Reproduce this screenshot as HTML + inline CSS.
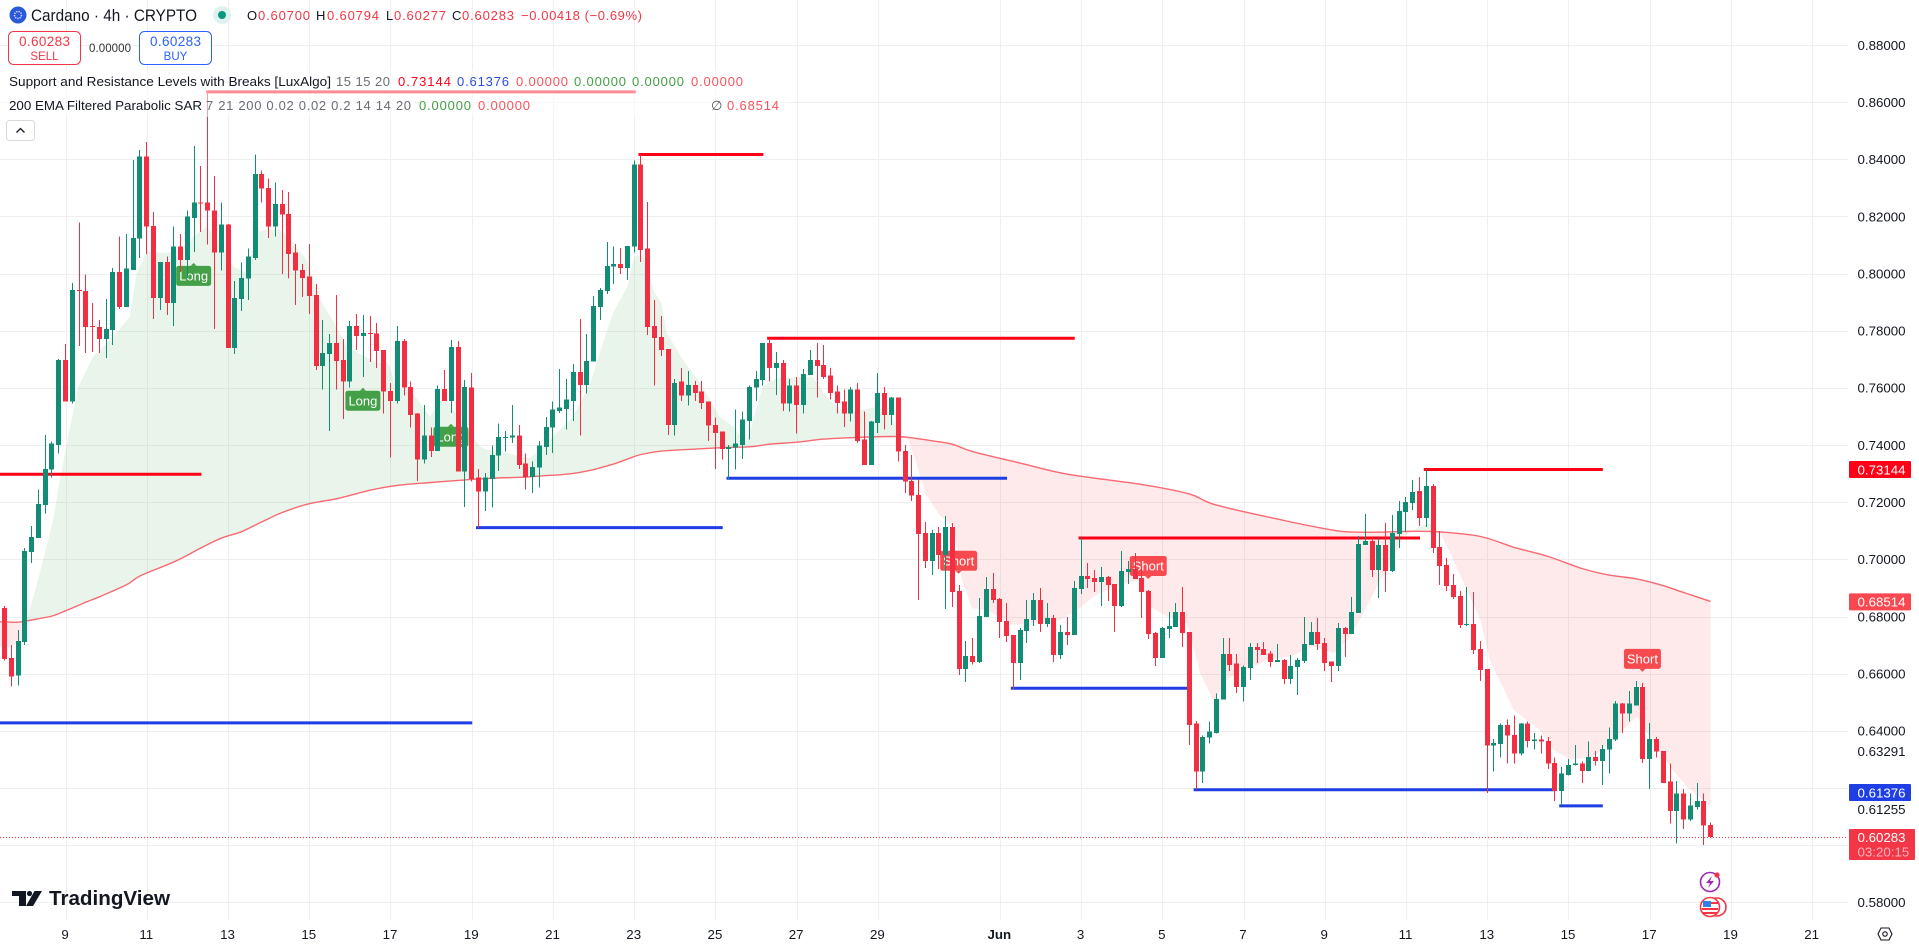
<!DOCTYPE html>
<html lang="en">
<head>
<meta charset="utf-8">
<title>Cardano 4h chart</title>
<style>
html,body{margin:0;padding:0;background:#fff;width:1919px;height:944px;overflow:hidden}
svg{display:block}
text{font-family:"Liberation Sans",sans-serif;fill:#131722}
</style>
</head>
<body>
<svg id="chart" xmlns="http://www.w3.org/2000/svg" width="1919" height="944" viewBox="0 0 1919 944">
  <rect width="1919" height="944" fill="#ffffff"/>
  <g id="grid"></g>
  <g id="fills"></g>
  <g id="ema"></g>
  <g id="levels"></g>
  <g id="signals"></g>
  <g id="candles"></g>
  <g id="lastline"></g>

  <g>
    <path d="M12 891H26V906H19V896H12Z" fill="#131722"/>
    <circle cx="29.5" cy="893.5" r="2.6" fill="#131722"/>
    <path d="M34.5 891H42L33 906H26Z" fill="#131722"/>
    <text x="49" y="905" font-size="20.5" font-weight="700" textLength="121" lengthAdjust="spacingAndGlyphs">TradingView</text>
  </g>

  <g>
    <circle cx="1710" cy="882" r="9.5" fill="#fff" stroke="#9c27b0" stroke-width="1.6"/>
    <path d="M1712 876L1706 883H1710L1708 888L1714 881H1710Z" fill="#9c27b0"/>
    <circle cx="1717" cy="875" r="2.6" fill="#f23645"/>
    <circle cx="1717" cy="907" r="9" fill="#fff" stroke="#f23645" stroke-width="1.6"/>
    <circle cx="1710" cy="907" r="9.5" fill="#fff" stroke="#f23645" stroke-width="1.6"/>
    <rect x="1703" y="901" width="8" height="6" fill="#2f80ed"/>
    <rect x="1711" y="902" width="7" height="2" fill="#f23645"/>
    <rect x="1702" y="908" width="16" height="2" fill="#f23645"/>
    <rect x="1703" y="912" width="14" height="2" fill="#f23645"/>
  </g>

  <rect x="0" y="70" width="790" height="47" fill="#ffffff" fill-opacity="0.55"/>

  <g>
    <circle cx="18" cy="15" r="8.5" fill="#2a5ada"/>
    <circle cx="18" cy="15" r="3.5" fill="none" stroke="#c9d6ff" stroke-width="1.5" stroke-dasharray="1.4 1"/>
    <text x="31" y="21" font-size="16.5" textLength="166" lengthAdjust="spacingAndGlyphs">Cardano · 4h · CRYPTO</text>
    <circle cx="222" cy="15" r="9" fill="#e0f2ef"/>
    <circle cx="222" cy="15" r="4" fill="#089981"/>
    <text x="247" y="20" font-size="13">O</text>
    <text x="258" y="20" font-size="13" style="fill:#f23645" textLength="52">0.60700</text>
    <text x="316" y="20" font-size="13">H</text>
    <text x="327" y="20" font-size="13" style="fill:#f23645" textLength="52">0.60794</text>
    <text x="386" y="20" font-size="13">L</text>
    <text x="394" y="20" font-size="13" style="fill:#f23645" textLength="52">0.60277</text>
    <text x="452" y="20" font-size="13">C</text>
    <text x="462" y="20" font-size="13" style="fill:#f23645" textLength="52">0.60283</text>
    <text x="521" y="20" font-size="13" style="fill:#f23645" textLength="121">−0.00418 (−0.69%)</text>

    <g>
      <rect x="8.5" y="31.5" width="72" height="33" rx="5" fill="#fff" stroke="#f23645"/>
      <text x="44.5" y="46" font-size="13.5" text-anchor="middle" style="fill:#f23645" textLength="51">0.60283</text>
      <text x="44.5" y="60" font-size="11.5" text-anchor="middle" style="fill:#f23645">SELL</text>
    </g>
    <text x="89" y="52" font-size="11.5" style="fill:#333" textLength="42">0.00000</text>
    <g>
      <rect x="139.5" y="31.5" width="72" height="33" rx="5" fill="#fff" stroke="#2962ff"/>
      <text x="175.5" y="46" font-size="13.5" text-anchor="middle" style="fill:#2962ff" textLength="51">0.60283</text>
      <text x="175.5" y="60" font-size="11.5" text-anchor="middle" style="fill:#2962ff">BUY</text>
    </g>

    <text x="9" y="86" font-size="13" textLength="322" lengthAdjust="spacingAndGlyphs">Support and Resistance Levels with Breaks [LuxAlgo]</text>
    <text x="336" y="86" font-size="13" style="fill:#6a6d78" textLength="54">15 15 20</text>
    <text x="398" y="86" font-size="13" style="fill:#f9001a" textLength="53">0.73144</text>
    <text x="457" y="86" font-size="13" style="fill:#2a4be8" textLength="52">0.61376</text>
    <text x="516" y="86" font-size="13" style="fill:#f7525f" textLength="52">0.00000</text>
    <text x="574" y="86" font-size="13" style="fill:#43a047" textLength="52">0.00000</text>
    <text x="632" y="86" font-size="13" style="fill:#43a047" textLength="52">0.00000</text>
    <text x="691" y="86" font-size="13" style="fill:#f7525f" textLength="52">0.00000</text>

    <text x="9" y="110" font-size="13" textLength="193" lengthAdjust="spacingAndGlyphs">200 EMA Filtered Parabolic SAR</text>
    <text x="206" y="110" font-size="13" style="fill:#6a6d78" textLength="205">7 21 200 0.02 0.02 0.2 14 14 20</text>
    <text x="419" y="110" font-size="13" style="fill:#43a047" textLength="52">0.00000</text>
    <text x="478" y="110" font-size="13" style="fill:#f7525f" textLength="52">0.00000</text>
    <text x="711" y="110" font-size="13" style="fill:#555">∅</text>
    <text x="727" y="110" font-size="13" style="fill:#f7525f" textLength="52">0.68514</text>

    <g>
      <rect x="6.5" y="120.5" width="28" height="20" rx="3" fill="#fff" stroke="#d8dae0"/>
      <path d="M16.5 132.5L20.5 128.5L24.5 132.5" fill="none" stroke="#131722" stroke-width="1.3"/>
    </g>
  </g>

  <g id="timeaxis"></g>
  <g id="priceaxis"></g>

  <g>
    <path d="M1878.5 934L1881.5 928H1889.5L1892.5 934L1889.5 940H1881.5Z" transform="translate(-.5 0)" fill="none" stroke="#131722" stroke-width="1.1"/>
    <circle cx="1885" cy="934" r="2.2" fill="none" stroke="#131722" stroke-width="1.1"/>
  </g>
</svg>
<script>
// ---- price series (one value per 4h bar) ----
const opens = [.6830,.6655,.6594,.6711,.7026,.7075,.7191,.7314,.7401,.7698,.7552,.7943,.7940,.7817,.7814,.7772,.7803,.8006,.7884,.8013,
.8122,.8409,.8167,.7915,.8041,.7898,.8094,.8048,.8195,.8248,.8248,.8220,.8073,.8171,.7740,.7912,.7982,.8055,.8349,.8300,
.8164,.8244,.8209,.8073,.8013,.7989,.7926,.7677,.7719,.7758,.7698,.7622,.7817,.7782,.7793,.7790,.7733,.7590,.7555,.7765,
.7604,.7510,.7349,.7433,.7380,.7597,.7555,.7744,.7307,.7601,.7286,.7237,.7282,.7363,.7426,.7426,.7433,.7335,.7289,.7321,
.7394,.7461,.7520,.7527,.7555,.7656,.7611,.7692,.7884,.7940,.8024,.8034,.8020,.8094,.8381,.8087,.7817,.7779,.7737,.7471,
.7622,.7573,.7611,.7587,.7552,.7471,.7447,.7387,.7391,.7401,.7485,.7601,.7628,.7758,.7670,.7688,.7545,.7608,.7541,.7646,
.7698,.7681,.7643,.7587,.7552,.7510,.7594,.7419,.7331,.7478,.7583,.7506,.7566,.7380,.7275,.7226,.7093,.6995,.7093,.7016,
.7114,.6890,.6617,.6662,.6641,.6799,.6897,.6862,.6785,.6736,.6638,.6750,.6788,.6858,.6774,.6795,.6666,.6746,.6736,.6897,
.6942,.6935,.6921,.6939,.6914,.6837,.6956,.6967,.6935,.6890,.6743,.6655,.6757,.6764,.6816,.6746,.6425,.6257,.6376,.6393,
.6509,.6669,.6635,.6554,.6620,.6694,.6687,.6670,.6641,.6648,.6582,.6624,.6645,.6701,.6746,.6708,.6642,.6627,.6760,.6739,
.6813,.7051,.7065,.6963,.7051,.6960,.7089,.7166,.7198,.7240,.7145,.7257,.7044,.6981,.6911,.6872,.6771,.6774,.6687,.6617,
.6348,.6354,.6421,.6386,.6320,.6425,.6365,.6369,.6365,.6288,.6190,.6246,.6281,.6285,.6260,.6309,.6295,.6334,.6369,.6495,
.6460,.6488,.6554,.6302,.6372,.6330,.6222,.6120,.6180,.6089,.6134,.6155,.60700];
const highs = [.6837,.6701,.6753,.7039,.7117,.7244,.7436,.7412,.7702,.7754,.7968,.8178,.7996,.7898,.7838,.7912,.8020,.8129,.8139,.8398,
.8433,.8461,.8216,.8041,.8059,.8164,.8139,.8220,.8447,.8377,.8636,.8342,.8248,.8174,.7975,.8038,.8087,.8416,.8360,.8332,
.8318,.8293,.8286,.8104,.8034,.8104,.7964,.7838,.7789,.7926,.7772,.7835,.7859,.7856,.7852,.7828,.7733,.7618,.7817,.7772,
.7622,.7513,.7541,.7461,.7608,.7663,.7768,.7765,.7628,.7653,.7317,.7303,.7398,.7475,.7450,.7541,.7471,.7370,.7342,.7415,
.7499,.7552,.7667,.7632,.7684,.7842,.7789,.7922,.7950,.8111,.8094,.8090,.8097,.8395,.8416,.8251,.7908,.7852,.7737,.7632,
.7670,.7660,.7625,.7625,.7552,.7496,.7447,.7401,.7524,.7517,.7608,.7660,.7758,.7772,.7726,.7698,.7632,.7639,.7667,.7733,
.7758,.7751,.7670,.7608,.7594,.7604,.7618,.7517,.7485,.7653,.7604,.7569,.7566,.7401,.7366,.7279,.7131,.7103,.7114,.7152,
.7128,.6911,.6715,.6725,.6865,.6939,.6953,.6865,.6848,.6736,.6760,.6858,.6883,.6900,.6848,.6806,.6771,.6799,.6925,.7075,
.6988,.6963,.6974,.6942,.6914,.7030,.6995,.7023,.6974,.6893,.6746,.6764,.6816,.6848,.6904,.6746,.6435,.6383,.6432,.6530,
.6725,.6725,.6669,.6628,.6708,.6708,.6711,.6680,.6704,.6652,.6666,.6655,.6799,.6781,.6795,.6725,.6642,.6778,.6764,.6869,
.7082,.7159,.7079,.7075,.7128,.7156,.7205,.7219,.7278,.7289,.7317,.7264,.7100,.7005,.6949,.6890,.6904,.6886,.6715,.6617,
.6372,.6425,.6439,.6453,.6428,.6432,.6393,.6383,.6379,.6306,.6274,.6302,.6351,.6292,.6362,.6330,.6351,.6411,.6505,.6498,
.6540,.6575,.6568,.6428,.6379,.6330,.6285,.6225,.6197,.6180,.6218,.6180,.60794];
const lows = [.6646,.6555,.6559,.6701,.6988,.7075,.7160,.7286,.7370,.7552,.7545,.7747,.7723,.7726,.7723,.7705,.7751,.7877,.7884,.8013,
.8055,.8069,.7842,.7873,.7856,.7817,.8006,.7985,.8076,.8146,.8101,.7807,.8010,.7740,.7719,.7870,.7908,.8048,.8248,.8125,
.8129,.7999,.7982,.7891,.7919,.7859,.7663,.7594,.7450,.7594,.7492,.7601,.7733,.7639,.7691,.7670,.7510,.7356,.7545,.7573,
.7461,.7275,.7335,.7359,.7380,.7555,.7513,.7307,.7184,.7272,.7109,.7170,.7181,.7310,.7377,.7408,.7317,.7244,.7233,.7251,
.7366,.7373,.7513,.7454,.7485,.7433,.7580,.7692,.7838,.7929,.7964,.7999,.7978,.8073,.8041,.7786,.7608,.7712,.7436,.7433,
.7555,.7538,.7555,.7527,.7415,.7317,.7349,.7282,.7314,.7352,.7419,.7555,.7608,.7622,.7576,.7520,.7517,.7440,.7510,.7646,
.7566,.7632,.7559,.7510,.7464,.7482,.7408,.7331,.7331,.7443,.7454,.7471,.7342,.7233,.7205,.6858,.6970,.6946,.6967,.6827,
.6834,.6596,.6571,.6633,.6638,.6799,.6848,.6725,.6711,.6547,.6578,.6708,.6767,.6746,.6764,.6641,.6652,.6701,.6736,.6879,
.6900,.6886,.6837,.6855,.6746,.6834,.6914,.6932,.6795,.6722,.6627,.6655,.6725,.6764,.6694,.6351,.6194,.6218,.6355,.6390,
.6509,.6610,.6533,.6502,.6578,.6638,.6666,.6624,.6641,.6564,.6564,.6526,.6638,.6701,.6683,.6610,.6571,.6610,.6659,.6739,
.6813,.7051,.6939,.6865,.6886,.6956,.7040,.7096,.7173,.7117,.7114,.7023,.6911,.6890,.6862,.6760,.6767,.6669,.6575,.6183,
.6257,.6306,.6285,.6285,.6313,.6341,.6334,.6320,.6267,.6155,.6141,.6243,.6278,.6218,.6260,.6278,.6211,.6250,.6365,.6393,
.6432,.6488,.6288,.6197,.6306,.6218,.6075,.6005,.6057,.6085,.6124,.6001,.60277];
const closes = [.6652,.6590,.6715,.7030,.7079,.7194,.7317,.7405,.7698,.7552,.7943,.7940,.7814,.7814,.7772,.7807,.8006,.7884,.8017,.8125,
.8409,.8164,.7915,.8041,.7898,.8094,.8048,.8199,.8248,.8245,.8220,.8073,.8171,.7740,.7915,.7985,.8059,.8349,.8297,.8164,
.8244,.8206,.8069,.8010,.7985,.7922,.7677,.7723,.7758,.7695,.7622,.7817,.7782,.7793,.7790,.7730,.7587,.7555,.7765,.7601,
.7506,.7349,.7433,.7380,.7597,.7555,.7744,.7307,.7604,.7282,.7237,.7286,.7366,.7429,.7429,.7433,.7331,.7289,.7324,.7398,
.7464,.7524,.7531,.7559,.7656,.7611,.7695,.7887,.7943,.8027,.8034,.8020,.8097,.8381,.8083,.7814,.7775,.7733,.7471,.7618,
.7573,.7611,.7583,.7548,.7468,.7443,.7387,.7394,.7405,.7489,.7604,.7632,.7758,.7670,.7688,.7545,.7608,.7541,.7649,.7698,
.7677,.7639,.7583,.7548,.7510,.7594,.7415,.7331,.7482,.7583,.7506,.7566,.7377,.7272,.7223,.7089,.6995,.7093,.7016,.7114,
.6886,.6617,.6662,.6641,.6802,.6897,.6858,.6781,.6732,.6638,.6753,.6792,.6858,.6774,.6795,.6666,.6746,.6736,.6900,.6942,
.6932,.6921,.6939,.6911,.6837,.6960,.6967,.6932,.6886,.6739,.6655,.6760,.6767,.6816,.6743,.6421,.6257,.6379,.6397,.6512,
.6669,.6631,.6554,.6624,.6694,.6683,.6666,.6641,.6648,.6582,.6627,.6648,.6704,.6746,.6704,.6638,.6627,.6760,.6739,.6816,
.7054,.7065,.6963,.7051,.6960,.7093,.7170,.7201,.7236,.7145,.7257,.7040,.6977,.6907,.6869,.6771,.6774,.6683,.6613,.6348,
.6358,.6421,.6383,.6320,.6425,.6365,.6369,.6362,.6285,.6190,.6250,.6281,.6285,.6260,.6309,.6295,.6337,.6372,.6495,.6460,
.6495,.6554,.6302,.6372,.6327,.6218,.6120,.6180,.6089,.6138,.6155,.6068,.60283];

// ---- EMA 200, read at visible knots ----
const emaBars = [-1,2,4,7,9,12,14,18,20,24,26,29,32,35,38,41,45,49,54,58,63,68,72,77,80,83,86,90,92,94,97,102,107,110,113,117,121,126,131,133,137,140,143,150,157,168,175,179,189,194,198,203,207,212,218,223,228,233,237,241,245,248,252];
const emaValues = [.6782,.6780,.6788,.6802,.6820,.6850,.6869,.6911,.6942,.6981,.7002,.7040,.7074,.7097,.7131,.7164,.7195,.7212,.7242,.7259,.7269,.7278,.7284,.7288,.7293,.7298,.7309,.7334,.7351,.7367,.7379,.7386,.7392,.7394,.7403,.7410,.7421,.7427,.7430,.7428,.7415,.7403,.7377,.7337,.7298,.7262,.7229,.7190,.7136,.7112,.7097,.7095,.7098,.7096,.7080,.7042,.7010,.6968,.6945,.6932,.6908,.6884,.6853];

// ---- SAR band edges bounding the shaded areas ----
const greenBandBars = [3.3,5.2,7.2,7.9,9.4,10.9,13.1,16.1,18.5,19.5,21,24,26,27.9,29.9,31.8,33.8,35.8,37.2,38.7,40.7,42.6,44.6,46.6,49,50.5,55,56.7,57.9,59.9,62.8,64.8,70.2,71.2,74.2,77.6,79,81,84,86.5,89,90,92,93,94.4,95.8,97,97.8,100.2,103.1,105.6,107.6,109.5,112,114,119.3,121.8,124.2,129.1,131,132.5];
const greenBandValues = [.6788,.6952,.7138,.7244,.7430,.7605,.7710,.7780,.7850,.8002,.8077,.8072,.8083,.8130,.8165,.8107,.8025,.8002,.8142,.8156,.8153,.8107,.8048,.7908,.7815,.7745,.7687,.7687,.7594,.7594,.7500,.7570,.7395,.7384,.7372,.7354,.7384,.7430,.7500,.7617,.7803,.7868,.7955,.8060,.8066,.7943,.7897,.7792,.7698,.7605,.7500,.7465,.7407,.7605,.7634,.7640,.7559,.7512,.7535,.7500,.7429];
const greenBumpBars = [207.8,209.5,210.5,212];
const greenBumpValues = [.7098,.7120,.7125,.7096];
const redStartBars = [-1,1,2.5,3.3];
const redStartValues = [.6695,.6695,.6720,.6788];
const redMidBars = [132.5,133.5,135,136,138.2,140.2,141.4,142.9,145.1,149,152,156,158.4,160.9,163.8,167.8,169.2,171.7,174.6,176.6,178.6,180.6,182.5,184.5,186.5,189.9,193.4,196.3,198.8,201.2,203.2,204.6,206.6,207.8];
const redMidValues = [.7429,.7418,.7313,.7231,.7152,.7115,.6928,.6829,.6823,.6771,.6777,.6788,.6823,.6870,.6905,.6928,.6835,.6800,.6777,.6602,.6503,.6578,.6613,.6625,.6648,.6660,.6695,.6672,.6730,.6835,.6928,.6975,.7080,.7098];
const redEndBars = [212,214,216,218,219.4,222.9,226.8,228.8,231.2,234.7,237.1,241.1,243,246,248.5,252];
const redEndValues = [.7096,.6998,.6893,.6788,.6648,.6473,.6403,.6334,.6299,.6310,.6357,.6450,.6380,.6275,.6205,.6135];

// ---- support / resistance levels ----
const resistanceStarts = [-1,94,113,159,210];
const resistanceEnds = [29,112,158,209,236];
const resistanceValues = [.7298,.8417,.7774,.7075,.73144];
const fadedResistanceStarts = [30];
const fadedResistanceEnds = [93];
const fadedResistanceValues = [.8636];
const supportStarts = [-1,70,107,149,176,230];
const supportEnds = [69,106,148,175,229,236];
const supportValues = [.6428,.7111,.7284,.6549,.6194,.61376];

// ---- signals ----
const longBars = [28,53,66];
const shortBars = [141,169,242];

// ---- axes ----
const priceTicks = [.88,.86,.84,.82,.80,.78,.76,.74,.72,.70,.68,.66,.64,.62,.60,.58];
const extraPriceLabels = [.63291,.61255];
const timeBars = [9,21,33,45,57,69,81,93,105,117,129,147,159,171,183,195,207,219,231,243,255,267];
const timeLabels = ['9','11','13','15','17','19','21','23','25','27','29','Jun','3','5','7','9','11','13','15','17','19','21'];
const lastPrice = 0.60283;
const resistanceTag = 0.73144;
const emaTag = 0.68514;
const supportTag = 0.61376;
const countdownText = '03:20:15';

const NS = 'http://www.w3.org/2000/svg';
const GREEN = '#128c74', RED = '#f22f42';
const PLOT_RIGHT = 1848, PLOT_BOTTOM = 920;
const xScale = i => 4.6 + 6.77 * i;
const yScale = p => 902.3 - (p - 0.58) * 2857.7;
const fmt = p => p.toFixed(5);
function mk(tag, attrs, parent, text) {
  const el = document.createElementNS(NS, tag);
  for (const k in attrs) el.setAttribute(k, attrs[k]);
  if (text !== undefined) el.textContent = text;
  parent.appendChild(el);
  return el;
}
const $ = id => document.getElementById(id);

// grid
priceTicks.forEach(p => {
  const y = Math.round(yScale(p)) + 0.5;
  const el = mk('line', {x1:0, x2:PLOT_RIGHT, y1:y, y2:y, stroke:'#efefef', 'stroke-width':1}, $('grid'));
  
  
});
timeBars.forEach(b => {
  const x = Math.round(xScale(b)) + 0.5;
  const el = mk('line', {x1:x, x2:x, y1:0, y2:PLOT_BOTTOM, stroke:'#efefef', 'stroke-width':1}, $('grid'));
  
  
});

// ema lookup
function emaAt(b) {
  for (let k = 0; k < emaBars.length - 1; k++) {
    if (b <= emaBars[k + 1]) {
      const t = (b - emaBars[k]) / (emaBars[k + 1] - emaBars[k]);
      return emaValues[k] + t * (emaValues[k + 1] - emaValues[k]);
    }
  }
  return emaValues[emaValues.length - 1];
}
function bandPoints(bars, vals) {
  const pts = bars.map((b, k) => xScale(b).toFixed(1) + ',' + yScale(vals[k]).toFixed(1));
  const a = bars[0], z = bars[bars.length - 1];
  pts.push(xScale(z).toFixed(1) + ',' + yScale(emaAt(z)).toFixed(1));
  for (let k = emaBars.length - 1; k >= 0; k--) {
    if (emaBars[k] < z && emaBars[k] > a) pts.push(xScale(emaBars[k]).toFixed(1) + ',' + yScale(emaValues[k]).toFixed(1));
  }
  pts.push(xScale(a).toFixed(1) + ',' + yScale(emaAt(a)).toFixed(1));
  return pts.join(' ');
}
const greenFill = {fill:'#4caf50', 'fill-opacity':0.12};
const redFill = {fill:'#f23645', 'fill-opacity':0.11};
let fillEl;
fillEl = mk('polygon', Object.assign({points: bandPoints(redStartBars, redStartValues)}, redFill), $('fills'));


fillEl = mk('polygon', Object.assign({points: bandPoints(greenBandBars, greenBandValues)}, greenFill), $('fills'));


fillEl = mk('polygon', Object.assign({points: bandPoints(redMidBars, redMidValues)}, redFill), $('fills'));


fillEl = mk('polygon', Object.assign({points: bandPoints(greenBumpBars, greenBumpValues)}, greenFill), $('fills'));


fillEl = mk('polygon', Object.assign({points: bandPoints(redEndBars, redEndValues)}, redFill), $('fills'));



// ema line, smoothed through the knots
function smoothPath(bars, vals) {
  const px = bars.map(b => xScale(b)), py = vals.map(v => yScale(v));
  let d = 'M' + px[0].toFixed(1) + ' ' + py[0].toFixed(1);
  for (let k = 0; k < px.length - 1; k++) {
    const a = Math.max(k - 1, 0), b = Math.min(k + 2, px.length - 1);
    const c1x = px[k] + (px[k + 1] - px[a]) / 6, c1y = py[k] + (py[k + 1] - py[a]) / 6;
    const c2x = px[k + 1] - (px[b] - px[k]) / 6, c2y = py[k + 1] - (py[b] - py[k]) / 6;
    d += 'C' + c1x.toFixed(1) + ' ' + c1y.toFixed(1) + ' ' + c2x.toFixed(1) + ' ' + c2y.toFixed(1) + ' ' + px[k + 1].toFixed(1) + ' ' + py[k + 1].toFixed(1);
  }
  return d;
}
const emaLine = mk('path', {
  d: smoothPath(emaBars, emaValues),
  fill: 'none', stroke: '#f76a72', 'stroke-width': 1.4, 'stroke-linejoin': 'round'
}, $('ema'));



// levels
fadedResistanceValues.forEach((v, k) => {
  const y = yScale(v);
  const el = mk('line', {x1:xScale(fadedResistanceStarts[k]), x2:xScale(fadedResistanceEnds[k]), y1:y, y2:y, stroke:'#ff0016', 'stroke-width':3, 'stroke-linecap':'square'}, $('levels'));
  
  
});
resistanceValues.forEach((v, k) => {
  const y = yScale(v);
  const el = mk('line', {x1:xScale(resistanceStarts[k]) - 1, x2:xScale(resistanceEnds[k]) - 1, y1:y, y2:y, stroke:'#ff0016', 'stroke-width':3, 'stroke-linecap':'square'}, $('levels'));
  
  
});
supportValues.forEach((v, k) => {
  const y = yScale(v);
  const el = mk('line', {x1:xScale(supportStarts[k]) - 1, x2:xScale(supportEnds[k]) - 1, y1:y, y2:y, stroke:'#1f3fe5', 'stroke-width':3, 'stroke-linecap':'square'}, $('levels'));
  
  
});

// signal labels
longBars.forEach(b => {
  const cx = xScale(b) - 0.5, apex = yScale(lows[b]) + 11;
  const g = mk('g', {}, $('signals'));
  
  
  const shape = mk('path', {d:`M${cx-3} ${apex+3}L${cx} ${apex}L${cx+3} ${apex+3}Z`, fill:'#43a047'}, g);
  
  
  const box = mk('rect', {x:cx-17.5, y:apex+3, width:35, height:20, rx:2.5, fill:'#43a047'}, g);
  
  
  const t = mk('text', {x:cx, y:apex+17.5, 'font-size':13, 'text-anchor':'middle', style:'fill:#fff'}, g, 'Long');
  
  
});
shortBars.forEach(b => {
  const cx = xScale(b) - 0.5, apex = yScale(highs[b]) - 11;
  const g = mk('g', {}, $('signals'));
  
  
  const shape = mk('path', {d:`M${cx-3} ${apex-3}L${cx} ${apex}L${cx+3} ${apex-3}Z`, fill:'#f74a4f'}, g);
  
  
  const box = mk('rect', {x:cx-18.5, y:apex-23, width:37, height:20, rx:2.5, fill:'#f74a4f'}, g);
  
  
  const t = mk('text', {x:cx, y:apex-8.5, 'font-size':13, 'text-anchor':'middle', style:'fill:#fff'}, g, 'Short');
  
  
});

// candles
opens.forEach((o, i) => {
  const c = closes[i], up = c >= o, col = up ? GREEN : RED;
  const cx = Math.round(xScale(i) - 0.5);
  const g = mk('g', {'shape-rendering':'crispEdges'}, $('candles'));
  
  
  const yh = yScale(highs[i]), yl = yScale(lows[i]);
  const wick = mk('rect', {x:cx, y:yh, width:1, height:Math.max(yl - yh, 1), fill:col}, g);
  
  
  const yt = yScale(Math.max(o, c)), yb = yScale(Math.min(o, c));
  const body = mk('rect', {x:cx - 2, y:yt, width:5, height:Math.max(yb - yt, 1), fill:col}, g);
  
  
});

// last price line
const lastY = Math.round(yScale(lastPrice)) + 0.5;
const lastLine = mk('line', {x1:0, x2:PLOT_RIGHT, y1:lastY, y2:lastY, stroke:'#f23645', 'stroke-width':1, 'stroke-dasharray':'1 2'}, $('lastline'));



// time axis
timeBars.forEach((b, k) => {
  const bold = timeLabels[k] === 'Jun';
  const el = mk('text', {x:xScale(b) - 0.5, y:939, 'font-size':13.3, 'text-anchor':'middle', 'font-weight':bold ? 700 : 400}, $('timeaxis'), timeLabels[k]);
  
  
});

// price axis
priceTicks.forEach(p => {
  const el = mk('text', {x:1857.5, y:yScale(p) + 4.8, 'font-size':13.3}, $('priceaxis'), fmt(p));
  
  
});
extraPriceLabels.forEach(p => {
  const el = mk('text', {x:1857.5, y:yScale(p) + 4.8, 'font-size':13.3}, $('priceaxis'), fmt(p));
  
  
});

// price tags
const tag1Y = yScale(resistanceTag);
const tag1 = mk('rect', {x:1849, y:tag1Y - 8.5, width:62, height:17, rx:1, fill:'#ff0016'}, $('priceaxis'));


const tag1T = mk('text', {x:1857.5, y:tag1Y + 4.8, 'font-size':13.3, style:'fill:#fff'}, $('priceaxis'), fmt(resistanceTag));



const tag2Y = yScale(emaTag);
const tag2 = mk('rect', {x:1849, y:tag2Y - 8.5, width:62, height:17, rx:1, fill:'#f9484f'}, $('priceaxis'));


const tag2T = mk('text', {x:1857.5, y:tag2Y + 4.8, 'font-size':13.3, style:'fill:#fff'}, $('priceaxis'), fmt(emaTag));



const tag3Y = yScale(supportTag) - 13.3;
const tag3 = mk('rect', {x:1849, y:tag3Y - 8.5, width:62, height:17, rx:1, fill:'#1f3fe5'}, $('priceaxis'));


const tag3T = mk('text', {x:1857.5, y:tag3Y + 4.8, 'font-size':13.3, style:'fill:#fff'}, $('priceaxis'), fmt(supportTag));



const tag4Y = yScale(lastPrice);
const tag4 = mk('rect', {x:1849, y:tag4Y - 8, width:66, height:31, rx:1, fill:'#f23645'}, $('priceaxis'));


const tag4T = mk('text', {x:1857.5, y:tag4Y + 4.8, 'font-size':13.3, style:'fill:#fff'}, $('priceaxis'), fmt(lastPrice));


const tag4C = mk('text', {x:1857.5, y:tag4Y + 19.3, 'font-size':13.3, style:'fill:#ffb3ba'}, $('priceaxis'), countdownText);


</script>
</body>
</html>
